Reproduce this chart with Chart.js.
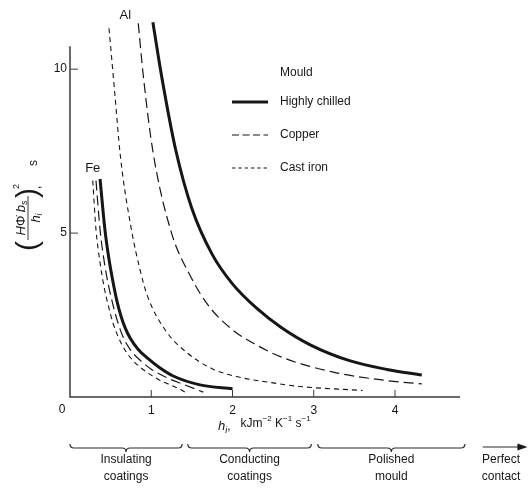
<!DOCTYPE html>
<html lang="en">
<head>
<meta charset="UTF-8">
<title>Solidification time constant vs interface heat transfer coefficient</title>
<style>
  body { margin: 0; background: #fff; }
  .wrap { width: 530px; height: 490px; position: relative; }
</style>
<script src="https://cdn.jsdelivr.net/npm/chart.js"></script>
</head>
<body>
<div class="wrap"><canvas id="chart"></canvas></div>
<script>
// values: h_i (kJ m^-2 K^-1 s^-1) against (H Phi b_s / h_i)^2 (s)
const alChilledX = [1.02, 1.13, 1.30, 1.50, 1.75, 2.00, 2.30, 2.60, 2.95, 3.45, 3.90, 4.33];
const alChilledY = [11.43, 9.75, 7.55, 5.75, 4.35, 3.45, 2.70, 2.12, 1.60, 1.10, 0.84, 0.67];
const alCopperX = [0.84, 0.90, 1.02, 1.25, 1.48, 1.70, 2.00, 2.30, 2.62, 3.24, 3.90, 4.33];
const alCopperY = [11.4, 9.85, 7.5, 5.0, 3.7, 2.8, 2.05, 1.58, 1.20, 0.76, 0.50, 0.40];
const alCastX = [0.48, 0.55, 0.62, 0.76, 0.86, 0.95, 1.17, 1.44, 1.76, 2.09, 2.50, 2.83, 3.60];
const alCastY = [11.25, 9.3, 7.35, 5.05, 3.9, 3.1, 2.05, 1.35, 0.85, 0.60, 0.43, 0.32, 0.20];
const feChilledX = [0.37, 0.43, 0.48, 0.53, 0.58, 0.63, 0.68, 0.74, 0.84, 0.95, 1.10, 1.27, 1.60, 2.00];
const feChilledY = [6.65, 5.1, 4.2, 3.5, 2.9, 2.45, 2.1, 1.8, 1.45, 1.19, 0.90, 0.64, 0.37, 0.25];
const feCopperX = [0.32, 0.37, 0.42, 0.47, 0.52, 0.58, 0.65, 0.74, 0.85, 1.00, 1.20, 1.40, 1.64];
const feCopperY = [6.6, 5.1, 4.15, 3.45, 2.9, 2.35, 1.85, 1.45, 1.15, 0.85, 0.58, 0.38, 0.15];
const feCastX = [0.28, 0.32, 0.37, 0.42, 0.47, 0.53, 0.60, 0.68, 0.78, 0.92, 1.10, 1.30, 1.44];
const feCastY = [6.6, 5.1, 4.1, 3.35, 2.8, 2.25, 1.8, 1.42, 1.10, 0.80, 0.52, 0.30, 0.12];

const mouldNames = ['Highly chilled', 'Copper', 'Cast iron'];
const xTickValues = [1, 2, 3, 4];
const yTickValues = [5, 10];
const bandLabels = [['Insulating', 'coatings'], ['Conducting', 'coatings'], ['Polished', 'mould'], ['Perfect', 'contact']];
const bandFrom = [0, 1.45, 3.05, 5.08];
const bandTo = [1.38, 2.97, 4.86, 5.63];

// line style per mould
const mouldWidth = [3, 1.2, 1.1];
const mouldDash = [[], [10, 5], [5, 4]];
const INK = '#161616';
const FONT = '"Liberation Sans", Arial, sans-serif';

const curves = [
  { mould: 0, x: alChilledX, y: alChilledY, metal: 'Al' },
  { mould: 1, x: alCopperX, y: alCopperY, metal: 'Al' },
  { mould: 2, x: alCastX, y: alCastY, metal: 'Al' },
  { mould: 0, x: feChilledX, y: feChilledY, metal: 'Fe' },
  { mould: 1, x: feCopperX, y: feCopperY, metal: 'Fe' },
  { mould: 2, x: feCastX, y: feCastY, metal: 'Fe' }
];

const datasets = curves.map(c => ({
  label: c.metal + ' – ' + mouldNames[c.mould],
  data: c.x.map((v, i) => ({ x: v, y: c.y[i] })),
  borderColor: INK,
  borderWidth: mouldWidth[c.mould],
  borderDash: mouldDash[c.mould],
  borderCapStyle: 'butt',
  pointRadius: 0,
  fill: false,
  cubicInterpolationMode: 'monotone'
}));

// text drawn in pieces: [text, font, dy]
function runsWidth(ctx, runs) {
  let w = 0;
  runs.forEach(r => { ctx.font = r[1]; w += ctx.measureText(r[0]).width; });
  return w;
}
function drawRuns(ctx, x, y, runs) {
  runs.forEach(r => { ctx.font = r[1]; ctx.fillText(r[0], x, y + r[2]); x += ctx.measureText(r[0]).width; });
  return x;
}

function brace(ctx, x1, x2, y) {
  const m = (x1 + x2) / 2;
  ctx.beginPath();
  ctx.moveTo(x1, y - 4);
  ctx.quadraticCurveTo(x1, y, x1 + 4, y);
  ctx.lineTo(m - 4, y);
  ctx.quadraticCurveTo(m, y, m, y + 4);
  ctx.quadraticCurveTo(m, y, m + 4, y);
  ctx.lineTo(x2 - 4, y);
  ctx.quadraticCurveTo(x2, y, x2, y - 4);
  ctx.stroke();
}

const decor = {
  id: 'decor',
  afterDraw(chart) {
    const ctx = chart.ctx;
    const xs = chart.scales.x, ys = chart.scales.y;
    const x0 = xs.getPixelForValue(0), y0 = ys.getPixelForValue(0);
    ctx.save();
    ctx.strokeStyle = '#3a3a3a';
    ctx.fillStyle = INK;
    ctx.lineWidth = 1.5;
    // axes
    ctx.beginPath();
    ctx.moveTo(x0, ys.getPixelForValue(10.7));
    ctx.lineTo(x0, y0);
    ctx.lineTo(xs.getPixelForValue(4.8), y0);
    ctx.stroke();
    ctx.lineWidth = 1;
    xTickValues.forEach(v => {
      const px = xs.getPixelForValue(v);
      ctx.beginPath(); ctx.moveTo(px, y0); ctx.lineTo(px, y0 - 7); ctx.stroke();
    });
    yTickValues.forEach(v => {
      const py = ys.getPixelForValue(v);
      ctx.beginPath(); ctx.moveTo(x0, py); ctx.lineTo(x0 + 8, py); ctx.stroke();
    });
    ctx.font = '12px ' + FONT;
    ctx.textAlign = 'center';
    ctx.textBaseline = 'middle';
    ctx.fillText('0', x0 - 8, y0 + 13);

    // metal labels
    ctx.font = '13px ' + FONT;
    ctx.fillText('Al', xs.getPixelForValue(0.68), ys.getPixelForValue(11.65));
    ctx.fillText('Fe', xs.getPixelForValue(0.28), ys.getPixelForValue(6.98));

    // legend
    ctx.textAlign = 'left';
    ctx.font = '12px ' + FONT;
    ctx.fillText('Mould', 280, 73);
    mouldNames.forEach((name, i) => {
      const y = 102 + i * 33;
      ctx.save();
      ctx.strokeStyle = INK;
      ctx.lineWidth = mouldWidth[i];
      ctx.setLineDash(mouldDash[i].map(d => d * 0.7));
      ctx.beginPath(); ctx.moveTo(232, y); ctx.lineTo(268, y); ctx.stroke();
      ctx.restore();
      ctx.font = '12px ' + FONT;
      ctx.fillText(name, 280, y);
    });

    // x axis title
    ctx.textBaseline = 'alphabetic';
    const it13 = 'italic 13px ' + FONT, f12 = '12px ' + FONT, sup = '8px ' + FONT;
    drawRuns(ctx, 218, 430, [
      ['h', it13, 0], ['i', 'italic 9px ' + FONT, 3], [',', f12, 0],
      ['   kJm', f12, -3], ['\u22122', sup, -9], [' K', f12, -3], ['\u22121', sup, -9],
      [' s', f12, -3], ['\u22121', sup, -9]
    ]);

    // y axis title, rotated
    ctx.save();
    ctx.translate(28, 250);
    ctx.rotate(-Math.PI / 2);
    ctx.textBaseline = 'middle';
    ctx.font = '300 30px ' + FONT;
    ctx.fillText('(', -1, 1);
    ctx.fillText(')', 52, 1);
    const num = [['H', it13, 0], ['\u03A6\u0307', '13px ' + FONT, 0], [' ', f12, 0], ['b', it13, 0], ['s', 'italic 9px ' + FONT, 3]];
    const nw = runsWidth(ctx, num);
    drawRuns(ctx, 32 - nw / 2, -7, num);
    const den = [['h', it13, 0], ['i', 'italic 9px ' + FONT, 3]];
    const dw = runsWidth(ctx, den);
    drawRuns(ctx, 32 - dw / 2, 8, den);
    ctx.lineWidth = 1;
    ctx.beginPath(); ctx.moveTo(10, 0); ctx.lineTo(54, 0); ctx.stroke();
    ctx.font = '9px ' + FONT;
    ctx.fillText('2', 61, -11);
    ctx.font = '12px ' + FONT;
    ctx.fillText(',', 61, 9);
    ctx.fillText('s', 84, 6);
    ctx.restore();

    // coating ranges under the axis
    ctx.lineWidth = 1.2;
    ctx.strokeStyle = '#2a2a2a';
    ctx.textAlign = 'center';
    ctx.textBaseline = 'middle';
    bandLabels.forEach((lines, i) => {
      const a = xs.getPixelForValue(bandFrom[i]), b = xs.getPixelForValue(bandTo[i]);
      if (i < bandLabels.length - 1) {
        brace(ctx, a, b, 448);
      } else {
        ctx.beginPath(); ctx.moveTo(a, 447); ctx.lineTo(b - 8, 447); ctx.stroke();
        ctx.beginPath(); ctx.moveTo(b, 447); ctx.lineTo(b - 10, 443.5); ctx.lineTo(b - 10, 450.5); ctx.closePath(); ctx.fill();
      }
      ctx.font = '12px ' + FONT;
      const c = (a + b) / 2 - (i === 3 ? 4 : 0);
      ctx.fillText(lines[0], c, 460);
      ctx.fillText(lines[1], c, 477);
    });
    ctx.restore();
  }
};

new Chart(document.getElementById('chart'), {
  type: 'line',
  data: { datasets },
  options: {
    responsive: true,
    maintainAspectRatio: false,
    animation: false,
    layout: { padding: { left: 0, top: 20, right: 70, bottom: 0 } },
    plugins: { legend: { display: false }, tooltip: { enabled: false } },
    scales: {
      x: {
        type: 'linear', min: 0, max: 4.8,
        afterBuildTicks: s => { s.ticks = xTickValues.map(v => ({ value: v })); },
        afterFit: s => { s.height = 93; },
        grid: { display: false, drawTicks: false },
        border: { display: false },
        ticks: { padding: 6, color: INK, font: { family: FONT, size: 12 } }
      },
      y: {
        type: 'linear', min: 0, max: 11.5,
        afterBuildTicks: s => { s.ticks = yTickValues.map(v => ({ value: v })); },
        afterFit: s => { s.width = 70; },
        grid: { display: false, drawTicks: false },
        border: { display: false },
        ticks: { padding: 3, color: INK, font: { family: FONT, size: 12 } }
      }
    }
  },
  plugins: [decor]
});
</script>
</body>
</html>
